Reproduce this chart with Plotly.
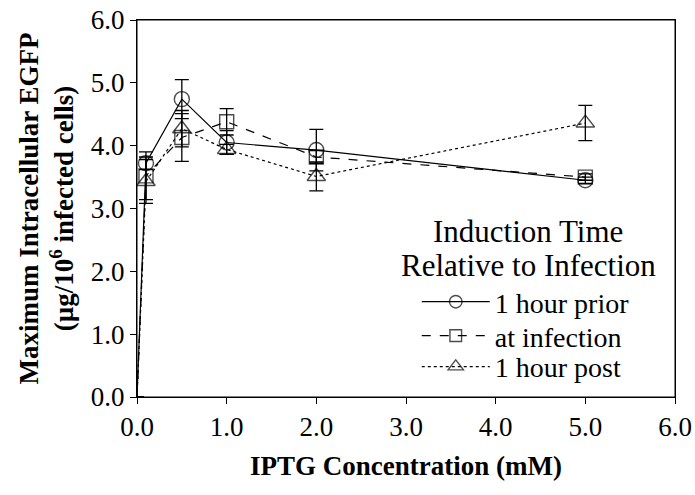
import plotly.graph_objects as go

iptg = [0.0, 0.1, 0.5, 1.0, 2.0, 5.0]

prior_y = [0.0, 3.72, 4.74, 4.05, 3.93, 3.45]
prior_err = [0.0, 0.10, 0.31, 0.19, 0.33, 0.05]

atinf_y = [0.0, 3.52, 4.13, 4.38, 3.82, 3.50]
atinf_err = [0.0, 0.38, 0.38, 0.21, 0.10, 0.05]

post_y = [0.0, 3.43, 4.27, 3.94, 3.51, 4.36]
post_err = [0.0, 0.35, 0.29, 0.08, 0.23, 0.28]

series_names = ["1 hour prior", "at infection", "1 hour post"]
legend_title_lines = ["Induction Time", "Relative to Infection"]
x_ticks = [0, 1, 2, 3, 4, 5, 6]
y_ticks = [0, 1, 2, 3, 4, 5, 6]

FONT = '"Liberation Serif", "Times New Roman", Times, serif'

fig = go.Figure()

specs = [
    (prior_y, prior_err, "circle-open", "solid", 15, "legend", 0.252),
    (atinf_y, atinf_err, "square-open", "dash", 14, "legend2", 0.162),
    (post_y, post_err, "triangle-up-open", "dot", 16, "legend3", 0.080),
]

legend_layouts = {}
for (ys, errs, sym, dash, msize, leg, ly), name in zip(specs, series_names):
    sizes = [0] + [msize] * (len(ys) - 1)
    fig.add_trace(go.Scatter(
        x=iptg, y=ys, name=name, mode="lines+markers", legend=leg,
        line=dict(color="black", width=1.2, dash=dash),
        marker=dict(symbol=sym, size=sizes, color="black",
                    line=dict(color="black", width=1.4)),
        error_y=dict(type="data", array=errs, visible=True,
                     color="black", thickness=1.3, width=7),
        cliponaxis=False,
    ))
    legend_layouts[leg] = dict(
        x=0.52, xanchor="left", y=ly, yanchor="middle",
        bgcolor="rgba(0,0,0,0)", borderwidth=0,
        font=dict(family=FONT, size=28, color="black"),
        itemwidth=68,
    )

axis_common = dict(
    showline=True, linecolor="black", linewidth=1, mirror=True,
    ticks="outside", ticklen=6, tickcolor="black", tickwidth=1,
    showgrid=False, zeroline=False, tickformat=".1f", automargin=False,
    ticklabeloverflow="allow",
    tickfont=dict(family=FONT, size=27, color="black"),
)

fig.update_layout(
    width=695, height=495,
    margin=dict(l=137, r=20, t=20, b=98),
    paper_bgcolor="white", plot_bgcolor="white",
    font=dict(family=FONT, color="black"),
    xaxis=dict(range=[0, 6], tickvals=x_ticks,
               title=dict(text="<b>IPTG Concentration (mM)</b>",
                          font=dict(family=FONT, size=27), standoff=14),
               **axis_common),
    yaxis=dict(range=[0, 6], tickvals=y_ticks,
               title=dict(text="<b>Maximum Intracellular EGFP<br>(µg/10<sup>6</sup> infected cells)</b>",
                          font=dict(family=FONT, size=27), standoff=9),
               **axis_common),
    showlegend=True,
    **legend_layouts,
)

# plot frame
fig.add_shape(type="rect", xref="paper", yref="paper", x0=0, x1=1, y0=0, y1=1,
              line=dict(color="black", width=1), layer="above")

for txt, yy in zip(legend_title_lines, [0.438, 0.348]):
    fig.add_annotation(
        text=txt, xref="paper", yref="paper", x=0.727, y=yy,
        xanchor="center", yanchor="middle", showarrow=False,
        font=dict(family=FONT, size=31, color="black"),
    )

fig.write_html(
    "out.html",
    config={"displayModeBar": False},
    post_script="document.body.style.margin='0';"
                "document.documentElement.style.overflow='hidden';",
)
